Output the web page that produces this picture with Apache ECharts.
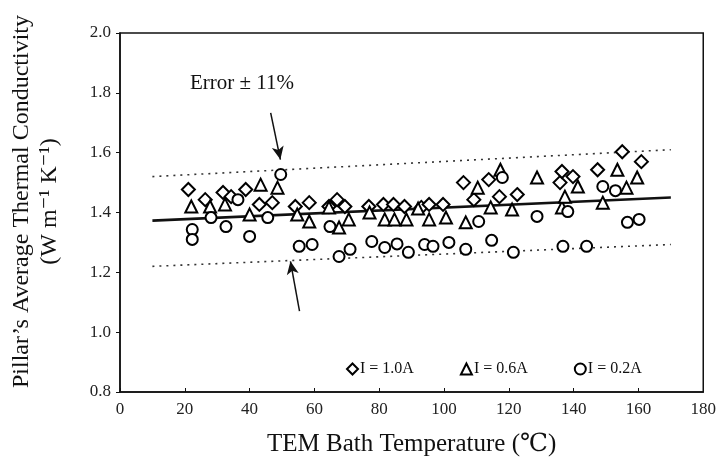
<!DOCTYPE html>
<html>
<head>
<meta charset="utf-8">
<script src="https://cdn.jsdelivr.net/npm/echarts@6/dist/echarts.min.js"></script>
<style>
html,body{margin:0;padding:0;background:#fff;}
#chart{width:719px;height:466px;}
</style>
</head>
<body>
<div id="chart"></div>
<script>
// ---- data ----
const seriesNames = ['I = 1.0A', 'I = 0.6A', 'I = 0.2A'];
const xTicks = [0, 20, 40, 60, 80, 100, 120, 140, 160, 180];
const yTicks = [0.8, 1.0, 1.2, 1.4, 1.6, 1.8, 2.0];

const diamond10 = [
  [21.1,1.477],[26.3,1.443],[31.8,1.467],[34.3,1.453],[38.8,1.477],[43,1.427],[47,1.433],
  [54.1,1.42],[58.4,1.433],[64.5,1.42],[67,1.443],[69.4,1.42],[76.8,1.42],[81.3,1.427],
  [84.4,1.427],[87.8,1.42],[93,1.417],[95.4,1.427],[99.7,1.427],[106,1.50],[109.2,1.443],
  [113.8,1.51],[117.1,1.453],[122.6,1.46],[135.8,1.50],[136.4,1.537],[139.8,1.52],
  [147.4,1.543],[155,1.603],[160.9,1.57]
];
const triangle06 = [
  [22,1.42],[27.8,1.42],[32.4,1.427],[40,1.393],[43.4,1.493],[48.6,1.483],[54.7,1.393],
  [58.4,1.37],[64.5,1.417],[67.6,1.35],[70.6,1.377],[77,1.40],[81.7,1.377],[84.7,1.377],
  [88.4,1.377],[92,1.413],[95.4,1.377],[100.6,1.383],[106.7,1.367],[110.4,1.483],
  [114.4,1.417],[117.4,1.543],[121,1.41],[128.7,1.517],[136.4,1.417],[137.3,1.453],
  [141.3,1.487],[149,1.433],[153.5,1.543],[156.3,1.483],[159.6,1.517]
];
const circle02 = [
  [22.3,1.343],[22.3,1.31],[28.1,1.383],[32.7,1.353],[36.4,1.443],[40,1.32],[45.6,1.383],
  [49.6,1.527],[55.3,1.287],[59.3,1.293],[64.8,1.353],[67.6,1.253],[71,1.277],[77.7,1.303],
  [81.7,1.283],[85.5,1.295],[89,1.267],[94,1.293],[96.6,1.287],[101.5,1.30],[106.7,1.277],
  [110.7,1.37],[114.7,1.307],[118,1.517],[121.4,1.267],[128.7,1.387],[136.7,1.287],
  [138.2,1.403],[144,1.287],[149,1.487],[152.9,1.473],[156.6,1.367],[160.2,1.377]
];
const fitLine = [[10,1.373],[170,1.45]];
const upperBound = [[10,1.52],[170,1.61]];
const lowerBound = [[10,1.22],[170,1.293]];
const arrowDown = [[46.5,1.733],[49.5,1.577]];
const arrowUp = [[55.4,1.07],[52.6,1.237]];
const annotationText = 'Error \u00B1 11%';

// ---- chart ----
const serif = '"Liberation Serif","DejaVu Serif",serif';
const chart = echarts.init(document.getElementById('chart'));
const markerStyle = {color: '#000', borderColor: '#000', borderWidth: 1.6, opacity: 1};

chart.setOption({
  backgroundColor: '#fff',
  animation: false,
  grid: {left: 116, right: 14, top: 33, bottom: 74, show: true, borderColor: '#111', borderWidth: 1.5, backgroundColor: 'transparent'},
  xAxis: {
    type: 'value', min: 0, max: 180, interval: 20,
    axisLine: {lineStyle: {color: '#111', width: 1.5}},
    axisTick: {inside: true, length: 4, lineStyle: {color: '#111'}},
    splitLine: {show: false},
    axisLabel: {color: '#222', fontFamily: serif, fontSize: 17, margin: 9,
      formatter: v => xTicks.includes(v) ? String(v) : ''},
    name: 'TEM Bath Temperature (\u2103)', nameLocation: 'middle', nameGap: 40,
    nameTextStyle: {color: '#111', fontFamily: serif, fontSize: 25}
  },
  yAxis: {
    type: 'value', min: 0.8, max: 2.0, interval: 0.2,
    axisLine: {lineStyle: {color: '#111', width: 1.5}},
    axisTick: {length: 4, lineStyle: {color: '#111'}},
    splitLine: {show: false},
    axisLabel: {color: '#222', fontFamily: serif, fontSize: 17, margin: 9,
      formatter: v => { const t = yTicks.find(y => Math.abs(y - v) < 1e-6); return t !== undefined ? t.toFixed(1) : ''; }},
    name: 'Pillar\u2019s Average Thermal Conductivity\n(W m\u207B\u00B9 K\u207B\u00B9)',
    nameLocation: 'middle', nameGap: 56, nameRotate: 90,
    nameTextStyle: {color: '#111', fontFamily: serif, fontSize: 24, lineHeight: 28, align: 'center', padding: [0, 0, 0, 22]}
  },
  legend: {
    data: seriesNames, left: 341, top: 356, itemGap: 46, itemWidth: 11, itemHeight: 11,
    textStyle: {color: '#111', fontFamily: serif, fontSize: 16, padding: [0,0,0,-3]}
  },
  graphic: [{
    type: 'text', left: 190, top: 73,
    style: {text: annotationText, font: '21px ' + serif, fill: '#111'}
  }],
  series: [
    {name: seriesNames[0], type: 'scatter', symbol: 'emptyDiamond', symbolSize: 13, itemStyle: markerStyle, data: diamond10, z: 5},
    {name: seriesNames[1], type: 'scatter', symbol: 'emptyTriangle', symbolSize: 12, itemStyle: markerStyle, data: triangle06, z: 5},
    {name: seriesNames[2], type: 'scatter', symbol: 'emptyCircle', symbolSize: 11, itemStyle: markerStyle, data: circle02, z: 5},
    {type: 'line', data: fitLine, symbol: 'none', lineStyle: {color: '#111', width: 2.6}, z: 3, silent: true},
    {type: 'line', data: upperBound, symbol: 'none', lineStyle: {color: '#333', width: 1.6, type: [2, 5]}, z: 3, silent: true},
    {type: 'line', data: lowerBound, symbol: 'none', lineStyle: {color: '#333', width: 1.6, type: [2, 5]}, z: 3, silent: true,
      markLine: {
        silent: true, symbol: ['none', 'arrow'], symbolSize: [9, 13],
        lineStyle: {color: '#111', width: 1.5, type: 'solid'}, label: {show: false},
        data: [
          [{coord: arrowDown[0]}, {coord: arrowDown[1]}],
          [{coord: arrowUp[0]}, {coord: arrowUp[1]}]
        ]
      }}
  ]
});
</script>
</body>
</html>
